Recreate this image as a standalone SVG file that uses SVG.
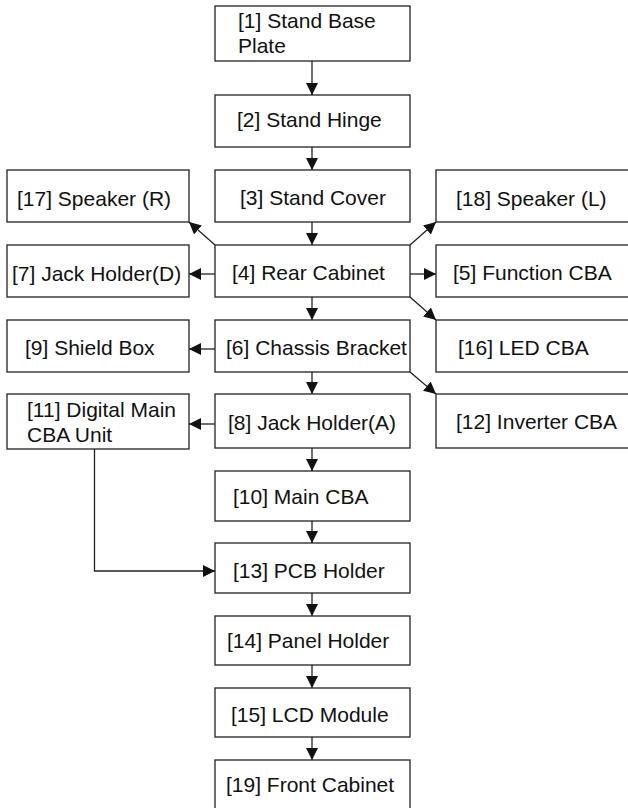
<svg xmlns="http://www.w3.org/2000/svg" width="628" height="808" viewBox="0 0 628 808">
<style>
.box{fill:#fff;stroke:#222;stroke-width:1.3}
.t{font-family:"Liberation Sans",Arial,sans-serif;font-size:21px;fill:#111}
.c{fill:none;stroke:#222;stroke-width:1.3}
</style>
<defs>
<marker id="ah" markerUnits="userSpaceOnUse" markerWidth="13" markerHeight="12" refX="12" refY="6" orient="auto">
<path d="M0,0 L12,6 L0,12 z" fill="#111"/>
</marker>
</defs>
<rect width="628" height="808" fill="#fff"/>
<g id="connectors">
<line class="c" x1="312" y1="61" x2="312" y2="95" marker-end="url(#ah)"/>
<line class="c" x1="312" y1="147" x2="312" y2="170" marker-end="url(#ah)"/>
<line class="c" x1="312" y1="222" x2="312" y2="245" marker-end="url(#ah)"/>
<line class="c" x1="312" y1="297" x2="312" y2="320" marker-end="url(#ah)"/>
<line class="c" x1="312" y1="372" x2="312" y2="394" marker-end="url(#ah)"/>
<line class="c" x1="312" y1="448" x2="312" y2="471" marker-end="url(#ah)"/>
<line class="c" x1="312" y1="521" x2="312" y2="543" marker-end="url(#ah)"/>
<line class="c" x1="312" y1="593" x2="312" y2="616" marker-end="url(#ah)"/>
<line class="c" x1="312" y1="665" x2="312" y2="688" marker-end="url(#ah)"/>
<line class="c" x1="312" y1="737" x2="312" y2="760" marker-end="url(#ah)"/>
<line class="c" x1="215" y1="245" x2="189" y2="222" marker-end="url(#ah)"/>
<line class="c" x1="410" y1="245" x2="436" y2="222" marker-end="url(#ah)"/>
<line class="c" x1="215" y1="274" x2="189" y2="274" marker-end="url(#ah)"/>
<line class="c" x1="410" y1="274" x2="436" y2="274" marker-end="url(#ah)"/>
<line class="c" x1="410" y1="297" x2="436" y2="320" marker-end="url(#ah)"/>
<line class="c" x1="215" y1="349" x2="189" y2="349" marker-end="url(#ah)"/>
<line class="c" x1="410" y1="372" x2="436" y2="394" marker-end="url(#ah)"/>
<line class="c" x1="215" y1="424" x2="189" y2="424" marker-end="url(#ah)"/>
<polyline class="c" points="94.5,449 94.5,571 215,571" marker-end="url(#ah)"/>
</g>
<g id="n1"><rect class="box" x="215" y="6" width="195" height="55"/><text class="t" x="238" y="28">[1] Stand Base</text><text class="t" x="238" y="53">Plate</text></g>
<g id="n2"><rect class="box" x="215" y="95" width="195" height="52"/><text class="t" x="237" y="127">[2] Stand Hinge</text></g>
<g id="n3"><rect class="box" x="215" y="170" width="195" height="52"/><text class="t" x="240" y="205">[3] Stand Cover</text></g>
<g id="n17"><rect class="box" x="7" y="170" width="182" height="52"/><text class="t" x="17" y="206">[17] Speaker (R)</text></g>
<g id="n18"><rect class="box" x="436" y="170" width="200" height="52"/><text class="t" x="456" y="206">[18] Speaker (L)</text></g>
<g id="n4"><rect class="box" x="215" y="245" width="195" height="52"/><text class="t" x="232" y="280">[4] Rear Cabinet</text></g>
<g id="n7"><rect class="box" x="7" y="245" width="182" height="52"/><text class="t" x="12" y="281">[7] Jack Holder(D)</text></g>
<g id="n5"><rect class="box" x="436" y="245" width="200" height="52"/><text class="t" x="453" y="280">[5] Function CBA</text></g>
<g id="n6"><rect class="box" x="215" y="320" width="195" height="52"/><text class="t" x="226" y="355">[6] Chassis Bracket</text></g>
<g id="n9"><rect class="box" x="7" y="320" width="182" height="52"/><text class="t" x="25" y="355">[9] Shield Box</text></g>
<g id="n16"><rect class="box" x="436" y="320" width="200" height="52"/><text class="t" x="458" y="355">[16] LED CBA</text></g>
<g id="n8"><rect class="box" x="215" y="394" width="195" height="54"/><text class="t" x="228" y="430">[8] Jack Holder(A)</text></g>
<g id="n11"><rect class="box" x="7" y="394" width="182" height="55"/><text class="t" x="27" y="417">[11] Digital Main</text><text class="t" x="27" y="442">CBA Unit</text></g>
<g id="n12"><rect class="box" x="436" y="394" width="200" height="54"/><text class="t" x="456" y="429">[12] Inverter CBA</text></g>
<g id="n10"><rect class="box" x="215" y="471" width="195" height="50"/><text class="t" x="233" y="504">[10] Main CBA</text></g>
<g id="n13"><rect class="box" x="215" y="543" width="195" height="50"/><text class="t" x="233" y="578">[13] PCB Holder</text></g>
<g id="n14"><rect class="box" x="215" y="616" width="195" height="49"/><text class="t" x="227" y="648">[14] Panel Holder</text></g>
<g id="n15"><rect class="box" x="215" y="688" width="195" height="49"/><text class="t" x="231" y="722">[15] LCD Module</text></g>
<g id="n19"><rect class="box" x="215" y="760" width="195" height="60"/><text class="t" x="226" y="792">[19] Front Cabinet</text></g>
</svg>
